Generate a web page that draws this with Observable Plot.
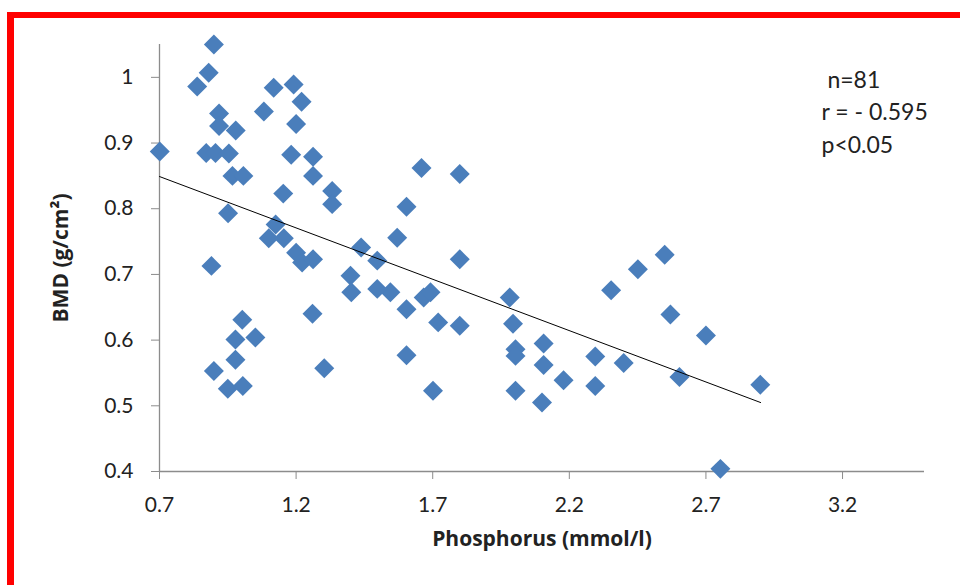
<!DOCTYPE html>
<html>
<head>
<meta charset="utf-8">
<script src="https://cdn.jsdelivr.net/npm/d3@7"></script>
<script src="https://cdn.jsdelivr.net/npm/@observablehq/plot@0.6"></script>
<style>
  html, body { margin: 0; padding: 0; background: #fff; overflow: hidden; }
  #wrap { position: relative; width: 960px; height: 585px; overflow: hidden; }
  .bar { position: absolute; background: #ff0000; }
  #topbar { left: 7px; top: 12px; width: 953px; height: 6px; }
  #leftbar { left: 7px; top: 12px; width: 7px; height: 573px; }
  #chart { position: absolute; left: 0; top: 0; }
</style>
</head>
<body>
<div id="wrap">
  <div id="chart"></div>
  <div class="bar" id="topbar"></div>
  <div class="bar" id="leftbar"></div>
</div>
<script>
// Phosphorus (mmol/l) values
const phosphorus = [
  0.899, 0.880, 0.838, 1.118, 1.191, 1.220, 1.082, 0.918, 0.918, 0.979,
  1.200, 0.701, 0.871, 0.905, 0.954, 1.182, 1.262, 0.967, 1.007, 1.262,
  1.153, 1.332, 1.332, 0.951, 1.125, 1.100, 1.155, 1.200, 1.222, 1.262,
  1.438, 1.497, 0.890, 1.399, 1.402, 1.659, 1.799, 1.604, 1.570, 1.799,
  1.545, 1.497, 1.667, 1.692, 1.604, 1.720, 1.799, 1.604, 1.701, 1.982,
  1.994, 2.003, 2.003, 2.106, 2.106, 2.179, 2.003, 2.100, 2.295, 2.295,
  2.353, 2.451, 2.549, 2.570, 2.700, 2.399, 2.603, 2.899, 2.753, 1.003,
  0.978, 1.051, 0.978, 0.899, 0.950, 1.005, 1.260, 1.303
];
// BMD (g/cm²) values
const bmd = [
  1.050, 1.007, 0.986, 0.984, 0.989, 0.963, 0.948, 0.945, 0.926, 0.919,
  0.929, 0.887, 0.885, 0.885, 0.884, 0.882, 0.879, 0.850, 0.850, 0.850,
  0.823, 0.827, 0.807, 0.793, 0.776, 0.755, 0.755, 0.733, 0.718, 0.723,
  0.741, 0.721, 0.713, 0.698, 0.673, 0.862, 0.853, 0.803, 0.756, 0.723,
  0.673, 0.678, 0.665, 0.673, 0.647, 0.627, 0.622, 0.577, 0.523, 0.665,
  0.625, 0.586, 0.576, 0.595, 0.562, 0.539, 0.523, 0.505, 0.575, 0.530,
  0.676, 0.708, 0.730, 0.639, 0.607, 0.565, 0.544, 0.532, 0.404, 0.631,
  0.601, 0.604, 0.570, 0.553, 0.526, 0.530, 0.640, 0.557
];
// Trend line end points
const trendX = [0.7, 2.9];
const trendY = [0.849, 0.505];
// Tick labels
const xTicks = [0.7, 1.2, 1.7, 2.2, 2.7, 3.2];
const yTicks = [0.4, 0.5, 0.6, 0.7, 0.8, 0.9, 1.0];
// Texts
const xTitle = "Phosphorus (mmol/l)";
const yTitle = "BMD (g/cm²)";
const statLines = ["\u00a0n=81", "r = - 0.595", "p<0.05"];

const points = phosphorus.map((p, i) => ({x: p, y: bmd[i]}));
const trend = trendX.map((x, i) => ({x, y: trendY[i]}));

const axisGray = "#8c8c8c";
const textColor = "#222222";
const titleFont = "'Open Sans', Lato, sans-serif";

const chart = Plot.plot({
  width: 960,
  height: 585,
  marginLeft: 159,
  marginRight: 36,
  marginTop: 44,
  marginBottom: 114,
  x: {domain: [0.7, 3.5]},
  y: {domain: [0.4, 1.05]},
  style: {fontFamily: "Lato, 'Open Sans', sans-serif", fontSize: "21px", color: textColor, background: "transparent"},
  marks: [
    Plot.ruleX([0.7], {stroke: axisGray, strokeWidth: 1.3}),
    Plot.ruleY([0.4], {stroke: axisGray, strokeWidth: 1.3}),
    Plot.axisX({ticks: xTicks, tickSize: 8, tickPadding: 18, tickFormat: d => String(d),
                stroke: axisGray, fill: textColor, label: null, fontSize: 21}),
    Plot.axisY({ticks: yTicks, tickSize: 8, tickPadding: 18, tickFormat: d => String(d),
                stroke: axisGray, fill: textColor, label: null, fontSize: 21}),
    Plot.dot(points, {x: "x", y: "y", symbol: "diamond2", r: 9, fill: "#4a7ebb", stroke: "none"}),
    Plot.line(trend, {x: "x", y: "y", stroke: "#000", strokeWidth: 1}),
    Plot.text([xTitle], {frameAnchor: "bottom", textAnchor: "middle", dy: 74, fontWeight: "bold",
                fontSize: 21, fontFamily: titleFont, fill: textColor}),
    Plot.text([yTitle], {frameAnchor: "left", textAnchor: "middle", rotate: -90, dx: -98, fontWeight: "bold",
                fontSize: 21, fontFamily: titleFont, fill: textColor}),
    Plot.text([statLines.join("\n")], {frameAnchor: "top-left", textAnchor: "start", lineAnchor: "top",
                dx: 662, dy: 20, lineHeight: 1.42, fontSize: 23, fill: textColor})
  ]
});
document.getElementById("chart").appendChild(chart);
</script>
</body>
</html>
